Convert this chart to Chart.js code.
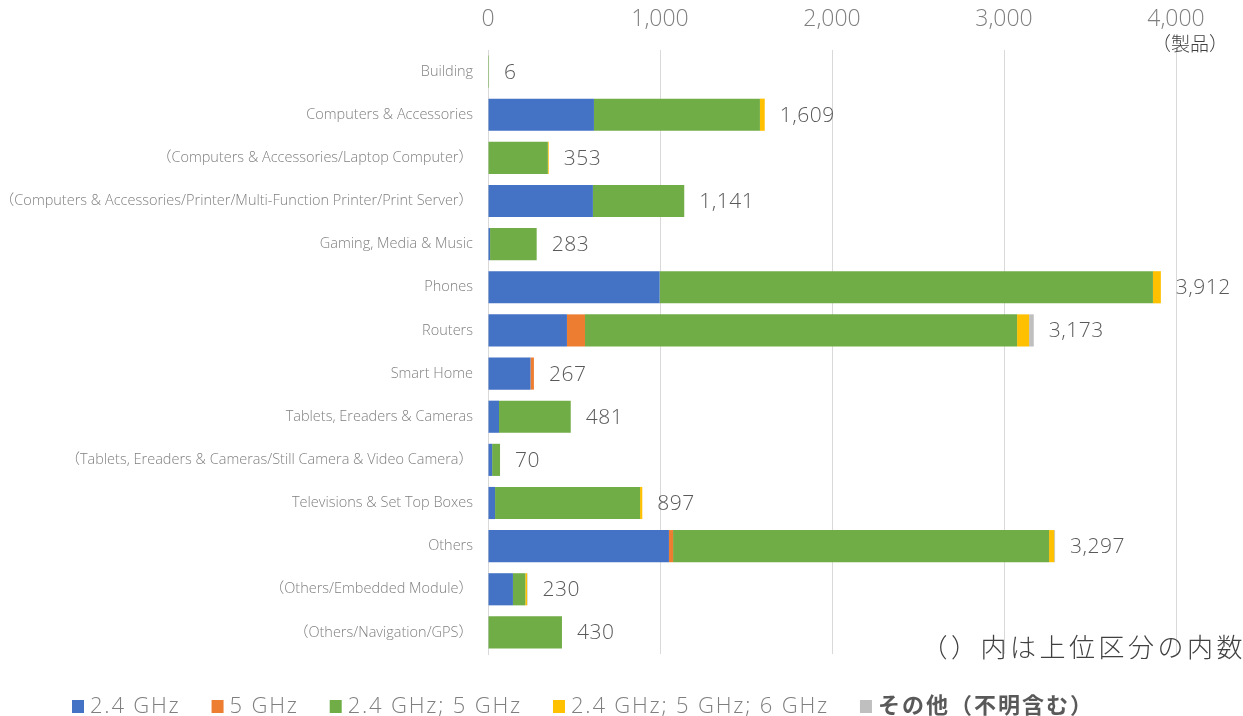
<html>
<head>
<meta charset="UTF-8">
<title>Wi-Fi band by category</title>
<style>
  body { margin: 0; background: #fff; }
  #wrap { width: 1243px; height: 716px; position: relative; }
</style>
</head>
<body>
<div id="wrap"><canvas id="bandChart" width="1243" height="716"></canvas></div>
<script src="https://cdn.jsdelivr.net/npm/chart.js"></script>
<script>
const categories = [
  'Building',
  'Computers & Accessories',
  '（Computers & Accessories/Laptop Computer）',
  '（Computers & Accessories/Printer/Multi-Function Printer/Print Server）',
  'Gaming, Media & Music',
  'Phones',
  'Routers',
  'Smart Home',
  'Tablets, Ereaders & Cameras',
  '（Tablets, Ereaders & Cameras/Still Camera & Video Camera）',
  'Televisions & Set Top Boxes',
  'Others',
  '（Others/Embedded Module）',
  '（Others/Navigation/GPS）'
];
const band24 =       [0,  616,   0, 610,  12,  998,  459, 247,  64, 24,  41, 1052, 145,   3];
const band5 =        [0,    0,   0,   0,   0,    0,  105,  20,   0,  0,   0,   24,   0,   0];
const band24_5 =     [6,  965, 348, 531, 271, 2868, 2512,   0, 417, 46, 843, 2186,  72, 427];
const band24_5_6 =   [0,   28,   5,   0,   0,   46,   70,   0,   0,  0,  13,   30,  10,   0];
const bandOther =    [0,    0,   0,   0,   0,    0,   27,   0,   0,  0,   0,    5,   3,   0];
const totals =       [6, 1609, 353, 1141, 283, 3912, 3173, 267, 481, 70, 897, 3297, 230, 430];
const xTicks = [0, 1000, 2000, 3000, 4000];

const seriesNames = ['2.4 GHz', '5 GHz', '2.4 GHz; 5 GHz', '2.4 GHz; 5 GHz; 6 GHz', 'その他（不明含む）'];
const seriesColors = ['#4472C4', '#ED7D31', '#70AD47', '#FFC000', '#BFBFBF'];
const seriesData = [band24, band5, band24_5, band24_5_6, bandOther];

const FONT = "'Open Sans', 'Noto Sans CJK JP', sans-serif";

// totals to the right of each bar + notes + legend
const extrasPlugin = {
  id: 'extras',
  afterDraw(chart) {
    const c = chart.ctx;
    const xs = chart.scales.x, ys = chart.scales.y;
    c.save();
    c.letterSpacing = '0.5px';
    c.fillStyle = '#595959';
    c.font = '300 21px ' + FONT;
    c.textBaseline = 'middle';
    c.textAlign = 'left';
    totals.forEach((t, i) => {
      c.fillText(t.toLocaleString('en-US'), xs.getPixelForValue(t) + 15, ys.getPixelForValue(i) + 1);
    });

    // unit
    c.letterSpacing = '0px';
    c.fillStyle = '#404040';
    c.font = '300 19px ' + FONT;
    c.textAlign = 'left';
    c.fillText('（製品）', 1152, 46);

    // note
    c.letterSpacing = '3.5px';
    c.font = '300 26px ' + FONT;
    c.textAlign = 'right';
    c.fillText('（）内は上位区分の内数', 1246, 650);

    // legend
    let x = 72;
    const y = 706;
    seriesNames.forEach((name, i) => {
      c.fillStyle = seriesColors[i];
      c.fillRect(x, y - 6, 12, 13);
      x += 18;
      if (i === 4) {
        c.font = 'bold 22px ' + FONT;
        c.fillStyle = '#595959';
        c.letterSpacing = '2px';
      } else {
        c.font = '300 22px ' + FONT;
        c.fillStyle = '#7f7f7f';
        c.letterSpacing = '1.8px';
      }
      c.textAlign = 'left';
      c.fillText(name, x, y + 1);
      x += c.measureText(name).width + 31;
    });
    c.restore();
  }
};

new Chart(document.getElementById('bandChart').getContext('2d'), {
  type: 'bar',
  data: {
    labels: categories,
    datasets: seriesNames.map((name, i) => ({
      label: name,
      data: seriesData[i],
      backgroundColor: seriesColors[i],
      borderWidth: 0,
      barPercentage: 0.745,
      categoryPercentage: 1
    }))
  },
  options: {
    indexAxis: 'y',
    responsive: false,
    animation: false,
    layout: { padding: { left: 0, right: 67, top: 0, bottom: 62 } },
    plugins: { legend: { display: false }, tooltip: { enabled: false } },
    scales: {
      x: {
        position: 'top',
        stacked: true,
        min: 0,
        max: 4000,
        afterBuildTicks: (s) => { s.ticks = xTicks.map(v => ({ value: v })); },
        afterFit: (s) => { s.height = 50; },
        grid: { color: '#d9d9d9', drawTicks: false },
        border: { display: false },
        ticks: {
          padding: 17,
          color: '#7f7f7f',
          font: { family: FONT, size: 23, weight: '300' },
          callback: (v) => Number(v).toLocaleString('en-US')
        }
      },
      y: {
        stacked: true,
        afterFit: (s) => { s.width = 488; },
        grid: { display: false, drawTicks: false },
        border: { display: true, color: '#d9d9d9' },
        ticks: {
          padding: 15,
          color: '#808080',
          font: { family: FONT, size: 14.5, weight: '300' }
        }
      }
    }
  },
  plugins: [extrasPlugin]
});
</script>
</body>
</html>
